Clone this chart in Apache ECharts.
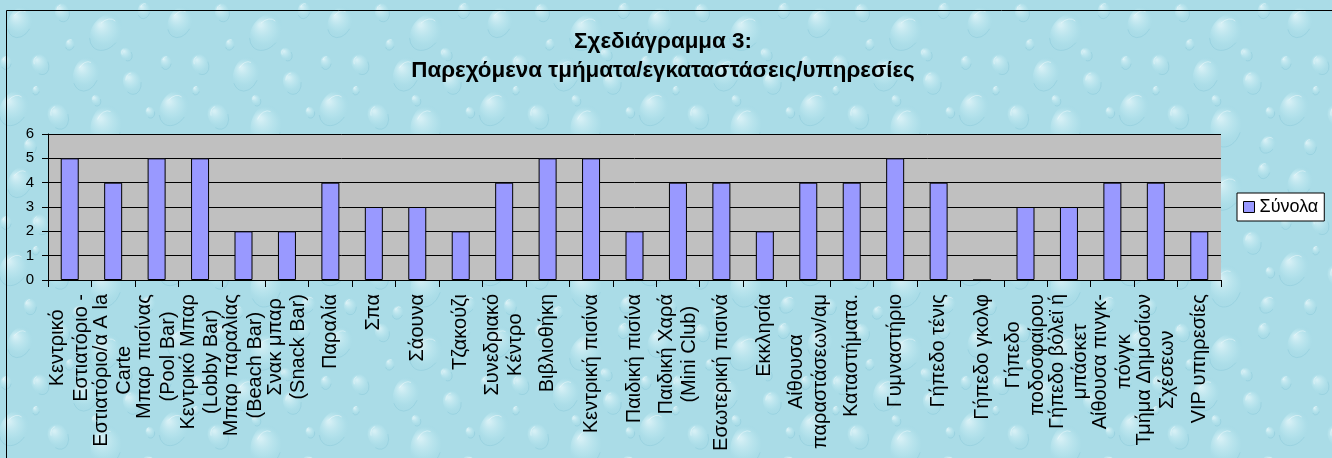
<!DOCTYPE html>
<html>
<head>
<meta charset="utf-8">
<title>Σχεδιάγραμμα 3</title>
<script src="https://cdn.jsdelivr.net/npm/echarts@6/dist/echarts.min.js"></script>
<style>
  html, body { margin: 0; padding: 0; background: #aadce7; }
  #chart { width: 1332px; height: 458px; }
</style>
</head>
<body>
<div id="chart"></div>
<script>
// Facilities and services offered (count per facility)
const categories = [
  'Κεντρικό\nΕστιατόριο -',
  'Εστιατόριο/α Α la\nCarte',
  'Μπαρ πισίνας\n(Pool Bar)',
  'Κεντρικό Μπαρ\n(Lobby Bar)',
  'Μπαρ παραλίας\n(Beach Bar)',
  'Σνακ μπαρ\n(Snack Bar)',
  'Παραλία',
  'Σπα',
  'Σάουνα',
  'Τζακούζι',
  'Συνεδριακό\nΚέντρο',
  'Βιβλιοθήκη',
  'Κεντρική πισίνα',
  'Παιδική πισίνα',
  'Παιδική Χαρά\n(Mini Club)',
  'Εσωτερική πισινά',
  'Εκκλησία',
  'Αίθουσα\nπαραστάσεων/αμ',
  'Καταστήματα.',
  'Γυμναστήριο',
  'Γήπεδο τένις',
  'Γήπεδο γκολφ',
  'Γήπεδο\nποδοσφαίρου',
  'Γήπεδο βόλεϊ ή\nμπάσκετ',
  'Αίθουσα πινγκ-\nπόνγκ',
  'Τμήμα Δημοσίων\nΣχέσεων',
  'VIP υπηρεσίες'
];
const totals = [5, 4, 5, 5, 2, 2, 4, 3, 3, 2, 4, 5, 5, 2, 4, 4, 2, 4, 4, 5, 4, 0, 3, 3, 4, 4, 2];
const seriesName = 'Σύνολα';
const titleLines = ['Σχεδιάγραμμα 3:', 'Παρεχόμενα τμήματα/εγκαταστάσεις/υπηρεσίες'];

const FONT = 'Arial, "Liberation Sans", sans-serif';
const CAT_FONT_SIZE = 20;
const CAT_LINE_HEIGHT = 23.5;

// Water-drop backdrop tile
function makeDropTile() {
  const size = 160;
  const c = document.createElement('canvas');
  c.width = size; c.height = size;
  const g = c.getContext('2d');
  g.fillStyle = '#aadce7';
  g.fillRect(0, 0, size, size);
  const drops = [
    [20, 22, 13, 0.4], [62, 12, 8, -0.3], [106, 32, 16, 0.6], [144, 10, 7, 0.2],
    [40, 64, 9, -0.5], [86, 74, 14, 0.3], [132, 82, 10, -0.2], [14, 108, 15, 0.5],
    [58, 116, 11, -0.4], [106, 126, 17, 0.2], [148, 144, 8, 0.6], [30, 146, 7, -0.1],
    [78, 152, 6, 0.4], [126, 54, 6, -0.6], [6, 62, 6, 0.1], [70, 44, 5, 0.3],
    [150, 112, 5, -0.3], [36, 90, 4, 0.2], [96, 100, 5, -0.4]
  ];
  for (const [x, y, r, rot] of drops) {
    for (const dx of [-size, 0, size]) {
      for (const dy of [-size, 0, size]) {
        const cx = x + dx, cy = y + dy;
        if (cx + r * 1.4 < 0 || cx - r * 1.4 > size || cy + r * 1.4 < 0 || cy - r * 1.4 > size) continue;
        const body = g.createRadialGradient(cx - r * 0.35, cy - r * 0.45, r * 0.1, cx, cy, r * 1.3);
        body.addColorStop(0, 'rgba(232,248,251,0.7)');
        body.addColorStop(0.55, 'rgba(190,232,240,0.4)');
        body.addColorStop(1, 'rgba(150,210,224,0.0)');
        g.fillStyle = body;
        g.beginPath(); g.ellipse(cx, cy, r * 0.9, r * 1.25, rot, 0, Math.PI * 2); g.fill();
        g.strokeStyle = 'rgba(120,190,208,0.3)';
        g.lineWidth = 1;
        g.beginPath(); g.ellipse(cx, cy, r * 0.9, r * 1.25, rot, 0.05 * Math.PI, 0.75 * Math.PI); g.stroke();
        g.strokeStyle = 'rgba(255,255,255,0.4)';
        g.beginPath(); g.ellipse(cx, cy, r * 0.6, r * 0.9, rot, 1.1 * Math.PI, 1.55 * Math.PI); g.stroke();
      }
    }
  }
  return c;
}

const chart = echarts.init(document.getElementById('chart'), null, { renderer: 'canvas' });

chart.setOption({
  backgroundColor: { image: makeDropTile(), repeat: 'repeat' },
  animation: false,
  textStyle: { fontFamily: FONT },
  title: {
    text: titleLines.join('\n'),
    left: 663,
    top: 27,
    padding: 0,
    textAlign: 'center',
    textStyle: {
      fontFamily: FONT,
      fontSize: 22.4,
      fontWeight: 'bold',
      color: '#000',
      lineHeight: 29
    }
  },
  legend: {
    data: [{ name: seriesName, icon: 'rect' }],
    left: 1237,
    top: 193,
    orient: 'vertical',
    backgroundColor: '#ffffff',
    borderColor: '#000',
    borderWidth: 1,
    padding: [5, 6, 5, 6],
    itemWidth: 11,
    itemHeight: 11,
    itemGap: 0,
    textStyle: { fontFamily: FONT, fontSize: 18, color: '#000' },
    itemStyle: { borderColor: '#000', borderWidth: 1 }
  },
  grid: {
    left: 48,
    top: 134,
    width: 1173,
    height: 146,
    show: true,
    backgroundColor: '#c0c0c0',
    borderWidth: 0,
    containLabel: false,
    outerBoundsMode: 'none'
  },
  xAxis: {
    type: 'category',
    data: categories,
    axisLine: { show: true, lineStyle: { color: '#000', width: 1 } },
    axisTick: { show: true, length: 7, alignWithLabel: false, interval: 0, lineStyle: { color: '#000' } },
    axisLabel: {
      interval: 0,
      rotate: 90,
      margin: 14,
      fontFamily: FONT,
      fontSize: CAT_FONT_SIZE,
      lineHeight: CAT_LINE_HEIGHT,
      color: '#000',
      // each wrapped line is centred within the label block
      formatter: name => name.split('\n').map(s => '{c|' + s + '}').join('\n'),
      rich: {
        c: {
          align: 'center',
          fontFamily: FONT,
          fontSize: CAT_FONT_SIZE,
          lineHeight: CAT_LINE_HEIGHT,
          color: '#000'
        }
      }
    },
    splitLine: { show: false }
  },
  yAxis: {
    type: 'value',
    min: 0,
    max: 6,
    interval: 1,
    axisLine: { show: true, lineStyle: { color: '#000', width: 1 } },
    axisTick: { show: true, length: 6, lineStyle: { color: '#000' } },
    axisLabel: { margin: 14, fontFamily: FONT, fontSize: 15, color: '#000' },
    splitLine: { show: true, lineStyle: { color: '#000', width: 1, type: 'solid' } }
  },
  series: [{
    name: seriesName,
    type: 'bar',
    data: totals,
    barWidth: 18,
    itemStyle: { color: '#9999ff', borderColor: '#000', borderWidth: 1 }
  }],
  graphic: [{
    type: 'rect',
    shape: { x: 6.5, y: 10.5, width: 1400, height: 500 },
    style: { fill: null, stroke: '#000', lineWidth: 1 },
    silent: true,
    z: 100
  }]
});
</script>
</body>
</html>
